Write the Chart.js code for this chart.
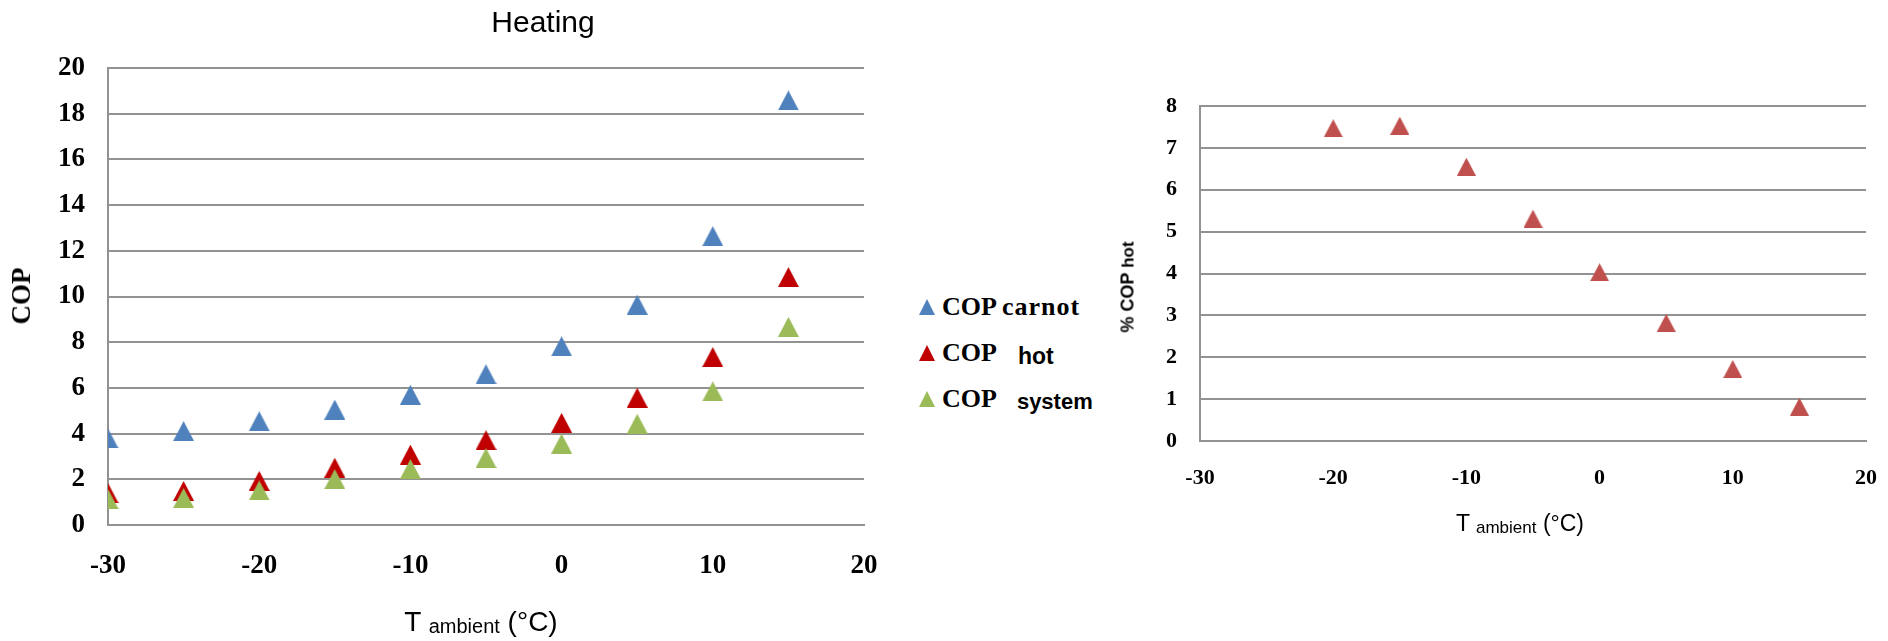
<!DOCTYPE html>
<html>
<head>
<meta charset="utf-8">
<script src="https://cdn.jsdelivr.net/npm/chart.js@4.4.1/dist/chart.umd.min.js"></script>
<style>
  body { margin: 0; background: #fff; width: 1888px; height: 641px; position: relative; overflow: hidden; }
  .box { position: absolute; top: 0; height: 641px; }
  .txt { position: absolute; white-space: nowrap; color: #000; }
  .serif { font-family: "Liberation Serif", "Times New Roman", serif; font-weight: bold; }
  .sans { font-family: "Liberation Sans", Arial, sans-serif; }
  .tri { display: inline-block; width: 16px; height: 16px; margin-right: 7px; clip-path: polygon(50% 0, 100% 100%, 0 100%); }
  .legend-row { position: absolute; left: 919px; font-size: 26px; line-height: 30px; white-space: nowrap; }
</style>
</head>
<body>
<div class="box" style="left:0;width:880px"><canvas id="heating"></canvas></div>
<div class="box" style="left:1100px;width:788px"><canvas id="pct"></canvas></div>

<div class="txt sans" style="left:543px;top:7px;font-size:30px;line-height:30px;transform:translateX(-50%)">Heating</div>
<div class="txt serif" style="left:21px;top:296px;font-size:27px;line-height:30px;transform:translate(-50%,-50%) rotate(-90deg)">COP</div>
<div class="txt sans" style="left:481px;top:608px;font-size:28px;line-height:28px;transform:translateX(-50%)">T <span style="font-size:20px;vertical-align:-2px">ambient</span> (°C)</div>

<div class="legend-row serif" style="top:292px"><span class="tri" style="background:#4F81BD"></span>COP <span style="letter-spacing:1px">carnot</span></div>
<div class="legend-row serif" style="top:338px"><span class="tri" style="background:#C00000"></span>COP<span class="sans" style="font-size:23px;margin-left:21px;vertical-align:-3px">hot</span></div>
<div class="legend-row serif" style="top:384px"><span class="tri" style="background:#9BBB59"></span>COP<span class="sans" style="font-size:22px;margin-left:20px;vertical-align:-2px">system</span></div>

<div class="txt sans" style="left:1128px;top:287px;font-size:18px;font-weight:bold;line-height:20px;transform:translate(-50%,-50%) rotate(-90deg)">% COP <span style="font-size:17px">hot</span></div>
<div class="txt sans" style="left:1520px;top:512px;font-size:23px;line-height:23px;transform:translateX(-50%)">T <span style="font-size:17px;vertical-align:-2px">ambient</span> (°C)</div>

<script>
// data
const temps = [-30, -25, -20, -15, -10, -5, 0, 5, 10, 15];
const copCarnot = [3.79, 4.11, 4.54, 5.05, 5.70, 6.60, 7.82, 9.64, 12.64, 18.58];
const copHot = [1.40, 1.49, 1.93, 2.51, 3.08, 3.71, 4.47, 5.57, 7.35, 10.85];
const copSystem = [1.14, 1.18, 1.51, 2.01, 2.45, 2.93, 3.56, 4.43, 5.85, 8.67];

const pctTemps = [-20, -15, -10, -5, 0, 5, 10, 15];
const pctCopHot = [7.47, 7.53, 6.55, 5.31, 4.03, 2.82, 1.72, 0.82];

const xTicks = [-30, -20, -10, 0, 10, 20];

const SERIF = '"Liberation Serif", "Times New Roman", serif';
const GRID = '#929292';

// excel-ish triangle marker
function triangle(color, w, h) {
  const c = document.createElement('canvas');
  c.width = w;
  c.height = h;
  const g = c.getContext('2d');
  g.fillStyle = color;
  g.beginPath();
  g.moveTo(w / 2, 0);
  g.lineTo(w, h);
  g.lineTo(0, h);
  g.closePath();
  g.fill();
  return c;
}

const toPoints = (xs, ys) => xs.map((x, i) => ({ x: x, y: ys[i] }));

function makeOptions(cfg) {
  return {
    responsive: true,
    maintainAspectRatio: false,
    animation: false,
    layout: { padding: { top: cfg.top, right: cfg.right, left: 0, bottom: 0 } },
    plugins: { legend: { display: false }, tooltip: { enabled: false } },
    scales: {
      x: {
        type: 'linear',
        min: -30,
        max: 20,
        afterBuildTicks: (s) => { s.ticks = xTicks.map((v) => ({ value: v })); },
        afterFit: (s) => {
          s.height = cfg.xHeight;
          // tick padding would otherwise widen the side margins
          s.paddingLeft = 0;
          s.paddingRight = 0;
        },
        grid: { display: false, drawTicks: false },
        border: { display: true, color: GRID, width: 2 },
        ticks: {
          padding: cfg.xPad,
          maxRotation: 0,
          autoSkip: false,
          color: '#000',
          font: { family: SERIF, size: cfg.font, weight: 'bold' },
        },
      },
      y: {
        min: 0,
        max: cfg.yMax,
        afterFit: (s) => { s.width = cfg.yWidth; },
        grid: { color: GRID, lineWidth: 2, drawTicks: false },
        border: { display: true, color: GRID, width: 2 },
        ticks: {
          stepSize: cfg.yStep,
          padding: cfg.yPad,
          autoSkip: false,
          color: '#000',
          font: { family: SERIF, size: cfg.font, weight: 'bold' },
        },
      },
    },
  };
}

new Chart(document.getElementById('heating'), {
  type: 'scatter',
  data: {
    datasets: [
      { label: 'COP carnot', data: toPoints(temps, copCarnot), pointStyle: triangle('#4F81BD', 21, 20), order: 3 },
      { label: 'COP hot', data: toPoints(temps, copHot), pointStyle: triangle('#C00000', 21, 20), order: 2 },
      { label: 'COP system', data: toPoints(temps, copSystem), pointStyle: triangle('#9BBB59', 21, 20), order: 1 },
    ],
  },
  options: makeOptions({ top: 68, right: 16, xHeight: 116, yWidth: 108, yMax: 20, yStep: 2, font: 27, xPad: 25, yPad: 23 }),
});

new Chart(document.getElementById('pct'), {
  type: 'scatter',
  data: {
    datasets: [
      { label: '% COP hot', data: toPoints(pctTemps, pctCopHot), pointStyle: triangle('#C0504D', 19, 18) },
    ],
  },
  options: makeOptions({ top: 106, right: 22, xHeight: 200, yWidth: 100, yMax: 8, yStep: 1, font: 22, xPad: 24, yPad: 23 }),
});
</script>
</body>
</html>
